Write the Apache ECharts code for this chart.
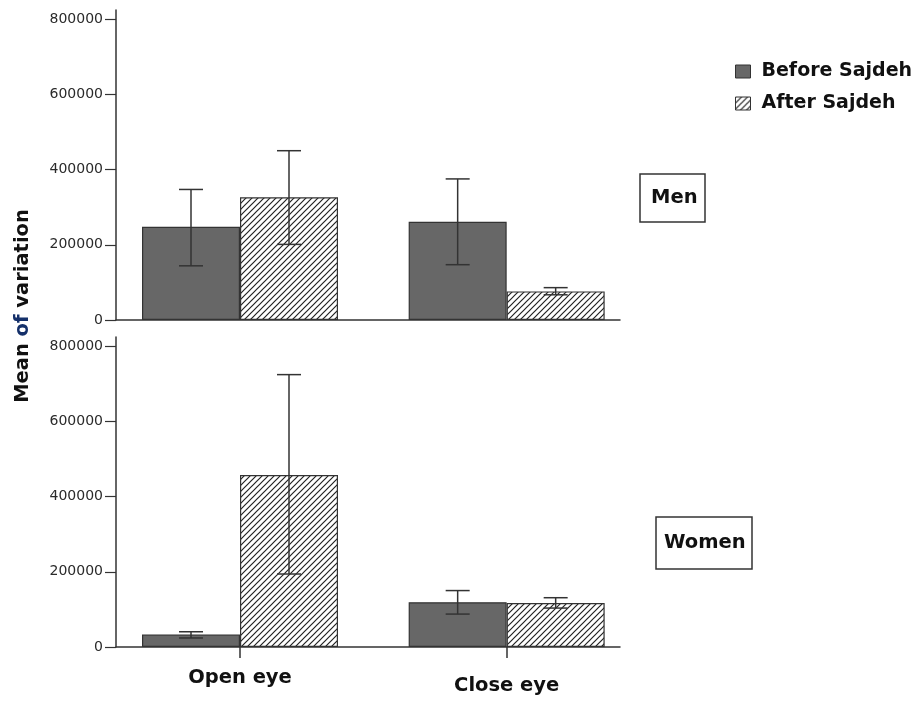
<!DOCTYPE html>
<html>
<head>
<meta charset="utf-8">
<title>Mean of variation before and after Sajdeh</title>
<script src="https://cdn.jsdelivr.net/npm/echarts@6/dist/echarts.min.js"></script>
<style>
  html, body { margin: 0; padding: 0; background: #fff; }
  #chart { width: 923px; height: 702px; }
</style>
</head>
<body>
<div id="chart"></div>
<script>
// ---- data ----
const categories = ['Open eye', 'Close eye'];
const seriesNames = ['Before Sajdeh', 'After Sajdeh'];
const panels = ['Men', 'Women'];
const yTicks = [0, 200000, 400000, 600000, 800000];

// Men
const menBefore = [248000, 261000];
const menBeforeLow = [144000, 147000];
const menBeforeHigh = [347000, 375000];
const menAfter = [326000, 76000];
const menAfterLow = [201000, 67000];
const menAfterHigh = [450000, 86000];

// Women
const womenBefore = [33000, 119000];
const womenBeforeLow = [24000, 87500];
const womenBeforeHigh = [40500, 150000];
const womenAfter = [457000, 117000];
const womenAfterLow = [194000, 103500];
const womenAfterHigh = [724000, 131000];

// ---- styling ----
const FONT = '"DejaVu Sans", "Liberation Sans", Arial, sans-serif';
const AXIS_COLOR = '#333';
const BAR_WIDTH = 98;

// diagonal hatch fill for the "after" bars
function hatchPattern() {
  const c = document.createElement('canvas');
  const s = 6;
  c.width = s; c.height = s;
  const g = c.getContext('2d');
  g.fillStyle = '#fff';
  g.fillRect(0, 0, s, s);
  g.strokeStyle = '#222';
  g.lineWidth = 1.2;
  g.beginPath();
  g.moveTo(0, s); g.lineTo(s, 0);
  g.moveTo(-1, 1); g.lineTo(1, -1);
  g.moveTo(s - 1, s + 1); g.lineTo(s + 1, s - 1);
  g.stroke();
  return c;
}
const hatch = { image: hatchPattern(), repeat: 'repeat' };

// category i sits at x = i + 1 on the value axis
const xs = categories.map((_, i) => i + 1);
const pairs = (vals) => vals.map((v, i) => [xs[i], v]);
const errData = (lo, hi) => lo.map((l, i) => [xs[i], l, hi[i]]);

function errorSeries(gridIdx, lo, hi, side) {
  return {
    type: 'custom',
    xAxisIndex: gridIdx,
    yAxisIndex: gridIdx,
    z: 5,
    silent: true,
    data: errData(lo, hi),
    renderItem: function (params, api) {
      const x = api.value(0);
      const pLo = api.coord([x, api.value(1)]);
      const pHi = api.coord([x, api.value(2)]);
      const cx = pLo[0] + side * BAR_WIDTH / 2;
      const cap = 12;
      const style = { stroke: '#333', lineWidth: 1.5, fill: null };
      return {
        type: 'group',
        children: [
          { type: 'line', shape: { x1: cx, y1: pLo[1], x2: cx, y2: pHi[1] }, style: style },
          { type: 'line', shape: { x1: cx - cap, y1: pHi[1], x2: cx + cap, y2: pHi[1] }, style: style },
          { type: 'line', shape: { x1: cx - cap, y1: pLo[1], x2: cx + cap, y2: pLo[1] }, style: style }
        ]
      };
    }
  };
}

function barSeries(name, gridIdx, values, fill) {
  return {
    name: name,
    type: 'bar',
    xAxisIndex: gridIdx,
    yAxisIndex: gridIdx,
    barWidth: BAR_WIDTH,
    barGap: '0%',
    z: 3,
    itemStyle: { color: fill, borderColor: '#333', borderWidth: 1.2 },
    data: pairs(values)
  };
}

const X_MIN = 0.535, X_MAX = 2.425;
function xAxisFor(gridIdx, showLabels) {
  return {
    type: 'value',
    gridIndex: gridIdx,
    min: X_MIN,
    max: X_MAX,
    splitLine: { show: false },
    axisLine: { show: true, onZero: false, lineStyle: { color: AXIS_COLOR, width: 1.5 } },
    axisTick: {
      show: showLabels,
      customValues: xs,
      length: 11,
      lineStyle: { color: AXIS_COLOR, width: 1.5 }
    },
    axisLabel: {
      show: showLabels,
      customValues: xs,
      margin: 21,
      formatter: function (v) {
        const i = Math.round(v) - 1;
        return i === 0 ? '{a|' + categories[i] + '}' : '{b|' + categories[i] + '}';
      },
      rich: {
        a: { fontFamily: FONT, fontWeight: 'bold', fontSize: 19.5, color: '#111' },
        b: { fontFamily: FONT, fontWeight: 'bold', fontSize: 19.5, color: '#111', padding: [8, 0, 0, 0] }
      }
    }
  };
}

function yAxisFor(gridIdx) {
  return {
    type: 'value',
    gridIndex: gridIdx,
    min: 0,
    max: 824000,
    splitLine: { show: false },
    axisLine: { show: true, lineStyle: { color: AXIS_COLOR, width: 1.5 } },
    axisTick: { show: true, customValues: yTicks, length: 11, lineStyle: { color: AXIS_COLOR, width: 1.2 } },
    axisLabel: {
      customValues: yTicks,
      margin: 13,
      fontFamily: FONT,
      fontSize: 14,
      color: '#2a2a2a',
      formatter: function (v) { return String(v); }
    }
  };
}

const chart = echarts.init(document.getElementById('chart'), null, { renderer: 'canvas' });

chart.setOption({
  backgroundColor: '#fff',
  animation: false,
  grid: [
    { left: 116, top: 10, width: 504, height: 310 },
    { left: 116, top: 337, width: 504, height: 310 }
  ],
  xAxis: [xAxisFor(0, false), xAxisFor(1, true)],
  yAxis: [yAxisFor(0), yAxisFor(1)],
  legend: {
    orient: 'vertical',
    left: 730,
    top: 57,
    icon: 'rect',
    itemWidth: 15,
    itemHeight: 13,
    itemGap: 13,
    data: seriesNames,
    itemStyle: { borderColor: '#333', borderWidth: 1 },
    textStyle: { fontFamily: FONT, fontWeight: 'bold', fontSize: 19, color: '#111', padding: [0, 0, 0, 6] }
  },
  title: [
    {
      text: panels[0],
      left: 640, top: 174,
      borderColor: '#333', borderWidth: 1.5,
      padding: [13, 8, 13, 11],
      textStyle: { fontFamily: FONT, fontWeight: 'bold', fontSize: 19.5, lineHeight: 22, color: '#111' }
    },
    {
      text: panels[1],
      left: 656, top: 517,
      borderColor: '#333', borderWidth: 1.5,
      padding: [15, 7, 15, 8],
      textStyle: { fontFamily: FONT, fontWeight: 'bold', fontSize: 19.5, lineHeight: 22, color: '#111' }
    }
  ],
  graphic: [
    {
      type: 'text',
      x: 23, y: 306,
      rotation: Math.PI / 2,
      style: {
        text: 'Mean {o|of} variation',
        rich: { o: { fontFamily: FONT, fontWeight: 'bold', fontSize: 19.5, fill: '#14306a' } },
        fontFamily: FONT, fontWeight: 'bold', fontSize: 19.5,
        fill: '#111',
        align: 'center', verticalAlign: 'middle'
      }
    }
  ],
  series: [
    barSeries(seriesNames[0], 0, menBefore, '#676767'),
    barSeries(seriesNames[1], 0, menAfter, hatch),
    barSeries(seriesNames[0], 1, womenBefore, '#676767'),
    barSeries(seriesNames[1], 1, womenAfter, hatch),
    errorSeries(0, menBeforeLow, menBeforeHigh, -1),
    errorSeries(0, menAfterLow, menAfterHigh, 1),
    errorSeries(1, womenBeforeLow, womenBeforeHigh, -1),
    errorSeries(1, womenAfterLow, womenAfterHigh, 1)
  ]
});
</script>
</body>
</html>
